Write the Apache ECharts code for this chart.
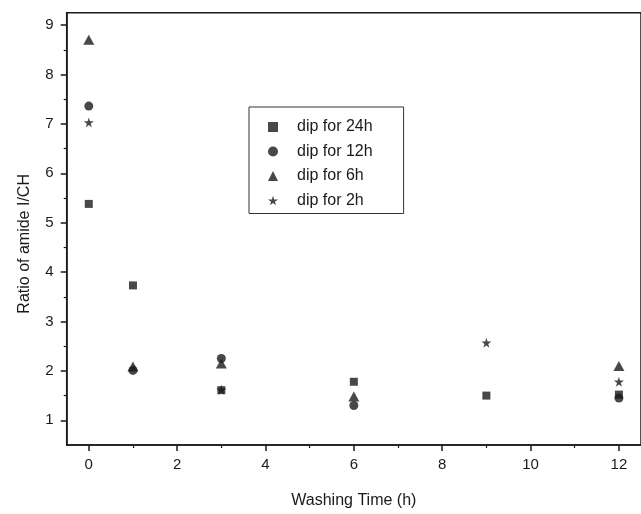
<!DOCTYPE html>
<html>
<head>
<meta charset="utf-8">
<script src="https://cdn.jsdelivr.net/npm/echarts@6/dist/echarts.min.js"></script>
<style>
  html, body { margin: 0; padding: 0; background: #fff; }
  #chart { width: 641px; height: 514px; }
</style>
</head>
<body>
<div id="chart"></div>
<script>
// values: [washing time (h), ratio]
const dip24h = [[0, 5.38], [1, 3.73], [3, 1.61], [6, 1.78], [9, 1.50], [12, 1.52]]
const dip12h = [[0, 7.36], [1, 2.01], [3, 2.25], [6, 1.30], [12, 1.45]]
const dip6h = [[0, 8.70], [1, 2.09], [3, 2.15], [6, 1.48], [12, 2.10]]
const dip2h = [[0, 7.03], [3, 1.62], [9, 2.57], [12, 1.78]]

const seriesNames = ['dip for 24h', 'dip for 12h', 'dip for 6h', 'dip for 2h']
const xTicks = [0, 2, 4, 6, 8, 10, 12]
const xMinorTicks = [1, 3, 5, 7, 9, 11]
const yTicks = [1, 2, 3, 4, 5, 6, 7, 8, 9]
const yMinorTicks = [1.5, 2.5, 3.5, 4.5, 5.5, 6.5, 7.5, 8.5]

const ink = '#1a1a1a'
const font = '"Liberation Sans", Arial, sans-serif'
const star = 'path://M50,0 L61,35 L98,35 L68,57 L79,91 L50,70 L21,91 L32,57 L2,35 L39,35 Z'

const chart = echarts.init(document.getElementById('chart'))

const axisCommon = {
  type: 'value',
  splitLine: { show: false },
  axisLine: { show: true, onZero: false, lineStyle: { color: ink, width: 1.5 } }
}

const option = {
  backgroundColor: '#fff',
  animation: false,
  textStyle: { fontFamily: font },
  grid: {
    left: 66.7, top: 12.7, right: -3.5, bottom: 67.3,
    show: true, borderColor: ink, borderWidth: 1.5
  },
  legend: {
    orient: 'vertical',
    left: 249, top: 107,
    padding: [11, 31, 4, 19],
    itemWidth: 10, itemHeight: 10,
    itemGap: 6.5,
    borderColor: '#333', borderWidth: 1,
    data: seriesNames,
    textStyle: { fontFamily: font, fontSize: 16, color: ink, lineHeight: 18, padding: [0, 0, 0, 14] }
  },
  xAxis: [
    {
      ...axisCommon,
      min: -0.5, max: 12.5,
      name: 'Washing Time (h)',
      nameLocation: 'middle', nameGap: 48,
      nameTextStyle: { fontFamily: font, fontSize: 16, color: ink },
      axisTick: { show: true, inside: false, length: 6, customValues: xTicks, lineStyle: { color: ink, width: 1.5 } },
      axisLabel: { customValues: xTicks, margin: 12, fontFamily: font, fontSize: 15, color: ink }
    },
    {
      ...axisCommon,
      min: -0.5, max: 12.5,
      position: 'bottom',
      axisLine: { show: false, onZero: false },
      axisTick: { show: true, inside: false, length: 3, customValues: xMinorTicks, lineStyle: { color: ink, width: 1.2 } },
      axisLabel: { show: false }
    }
  ],
  yAxis: [
    {
      ...axisCommon,
      min: 0.5, max: 9.25,
      name: 'Ratio of amide I/CH',
      nameLocation: 'middle', nameGap: 34,
      nameTextStyle: { fontFamily: font, fontSize: 16, color: ink, padding: [0, 30, 0, 0] },
      axisTick: { show: true, inside: false, length: 6, customValues: yTicks, lineStyle: { color: ink, width: 1.5 } },
      axisLabel: { customValues: yTicks, margin: 13, fontFamily: font, fontSize: 15, color: ink }
    },
    {
      ...axisCommon,
      min: 0.5, max: 9.25,
      position: 'left',
      axisLine: { show: false, onZero: false },
      axisTick: { show: true, inside: false, length: 3, customValues: yMinorTicks, lineStyle: { color: ink, width: 1.2 } },
      axisLabel: { show: false }
    }
  ],
  series: [
    { name: seriesNames[0], type: 'scatter', data: dip24h, symbol: 'rect', symbolSize: 8, itemStyle: { color: ink } },
    { name: seriesNames[1], type: 'scatter', data: dip12h, symbol: 'circle', symbolSize: 9, itemStyle: { color: ink } },
    { name: seriesNames[2], type: 'scatter', data: dip6h, symbol: 'triangle', symbolSize: [11, 10], itemStyle: { color: ink } },
    { name: seriesNames[3], type: 'scatter', data: dip2h, symbol: star, symbolSize: 10, itemStyle: { color: ink } }
  ]
}

chart.setOption(option)
</script>
</body>
</html>
